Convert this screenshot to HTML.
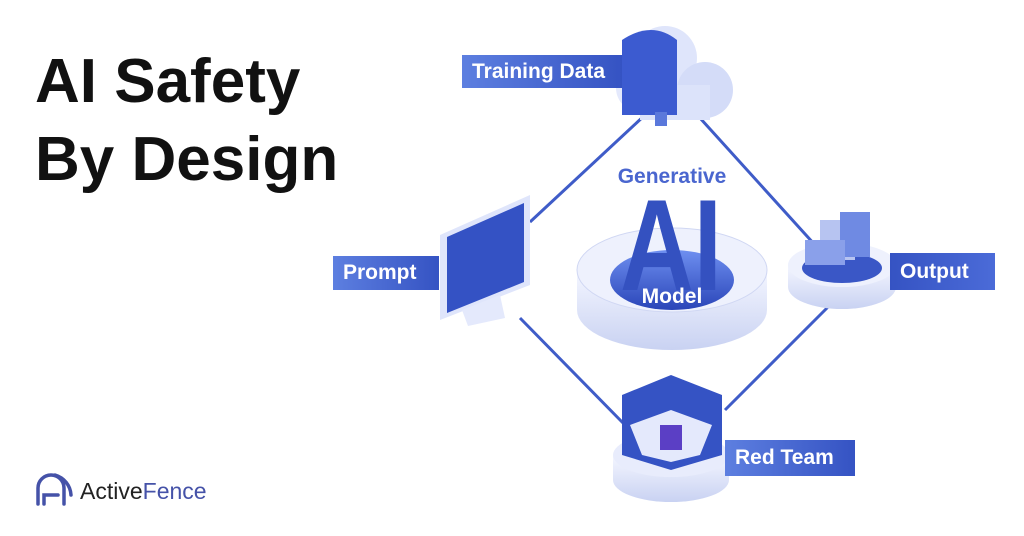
<!DOCTYPE html>
<html><head><meta charset="utf-8"><style>
body{margin:0;width:1024px;height:536px;background:#fff;overflow:hidden;position:relative;font-family:"Liberation Sans",sans-serif}
.t{position:absolute;left:35px;font-size:62px;font-weight:bold;color:#111;letter-spacing:0px}
.lbl{position:absolute;background:linear-gradient(90deg,#5d7fe0,#3553c3);color:#fff;font-size:21px;font-weight:bold;display:flex;align-items:center;padding-left:10px;box-sizing:border-box}
</style></head><body>
<div class="t" style="top:46px">AI Safety</div>
<div class="t" style="top:124px">By Design</div>
<svg width="1024" height="536" style="position:absolute;left:0;top:0">
<defs>
<linearGradient id="pl" x1="0" y1="0" x2="0" y2="1"><stop offset="0" stop-color="#f4f6ff"/><stop offset="1" stop-color="#c9d2f2"/></linearGradient>
<linearGradient id="bl" x1="0" y1="0" x2="0" y2="1"><stop offset="0" stop-color="#6e8ff0"/><stop offset="1" stop-color="#2a45b8"/></linearGradient>
</defs>
<g stroke="#3f5cc8" stroke-width="3">
<line x1="645" y1="115" x2="530" y2="222"/>
<line x1="700" y1="118" x2="815" y2="245"/>
<line x1="520" y1="318" x2="625" y2="425"/>
<line x1="830" y1="305" x2="725" y2="410"/>
</g>
<path d="M577 270 v40 a95 40 0 0 0 190 0 v-40z" fill="url(#pl)"/>
<ellipse cx="672" cy="270" rx="95" ry="42" fill="#eef1fd" stroke="#d0d7f3"/>
<ellipse cx="672" cy="280" rx="62" ry="30" fill="url(#bl)"/>
<text x="672" y="183" font-size="21" font-weight="bold" fill="#4a66cf" text-anchor="middle" font-family="Liberation Sans">Generative</text>
<text x="671" y="290" font-size="130" font-weight="bold" fill="#3451c0" text-anchor="middle" font-family="Liberation Sans" textLength="102" lengthAdjust="spacingAndGlyphs">AI</text>
<text x="672" y="303" font-size="21" font-weight="bold" fill="#fff" text-anchor="middle" font-family="Liberation Sans">Model</text>
<g>
<circle cx="665" cy="58" r="32" fill="#dfe5fb"/>
<circle cx="705" cy="90" r="28" fill="#d4dcf8"/>
<circle cx="640" cy="88" r="24" fill="#e4e9fc"/>
<rect x="640" y="85" width="70" height="35" fill="#dce3fa"/>
<path d="M622 40 q30 -20 55 0 v75 h-55z" fill="#3c5bd0"/>
<rect x="655" y="112" width="12" height="14" fill="#5a78db"/>
</g>
<polygon points="440,235 530,195 530,285 440,320" fill="#dfe5fb"/>
<polygon points="447,237 524,203 524,282 447,313" fill="#3452c4"/>
<polygon points="462,310 500,295 505,318 468,326" fill="#e4e9fc"/>
<path d="M788 265 v22 a54 22 0 0 0 108 0 v-22z" fill="url(#pl)"/>
<ellipse cx="842" cy="265" rx="54" ry="22" fill="#eef1fd"/>
<ellipse cx="842" cy="268" rx="40" ry="15" fill="#3a57c6"/>
<rect x="820" y="220" width="35" height="40" fill="#b7c4f1"/>
<rect x="840" y="212" width="30" height="45" fill="#6f8ae3"/>
<rect x="805" y="240" width="40" height="25" fill="#8aa0ea"/>
<path d="M613 455 v25 a58 22 0 0 0 116 0 v-25z" fill="url(#pl)"/>
<ellipse cx="671" cy="455" rx="58" ry="22" fill="#e8ecfc"/>
<polygon points="622,395 671,375 722,395 722,455 671,470 622,455" fill="#3553c4"/>
<polygon points="630,425 671,410 712,425 700,455 671,462 642,455" fill="#e4e9fc"/>
<rect x="660" y="425" width="22" height="25" fill="#5b3fc5"/>
<g fill="none" stroke="#4552a8" stroke-width="3.5" stroke-linecap="round">
<path d="M38 504 v-16 a13 13 0 0 1 26 0 v16"/>
<path d="M44 504 v-9 h14"/>
<path d="M55 475 a22 22 0 0 1 16 20"/>
</g>
</svg>
<div class="lbl" style="left:462px;top:55px;width:160px;height:33px">Training Data</div>
<div class="lbl" style="left:333px;top:256px;width:106px;height:34px">Prompt</div>
<div class="lbl" style="left:890px;top:253px;width:105px;height:37px;background:linear-gradient(90deg,#3553c3,#4b6bd8)">Output</div>
<div class="lbl" style="left:725px;top:440px;width:130px;height:36px">Red Team</div>
<div style="position:absolute;left:80px;top:478px;font-size:23px;color:#222">Active<span style="color:#4552a8">Fence</span></div>
</body></html>
